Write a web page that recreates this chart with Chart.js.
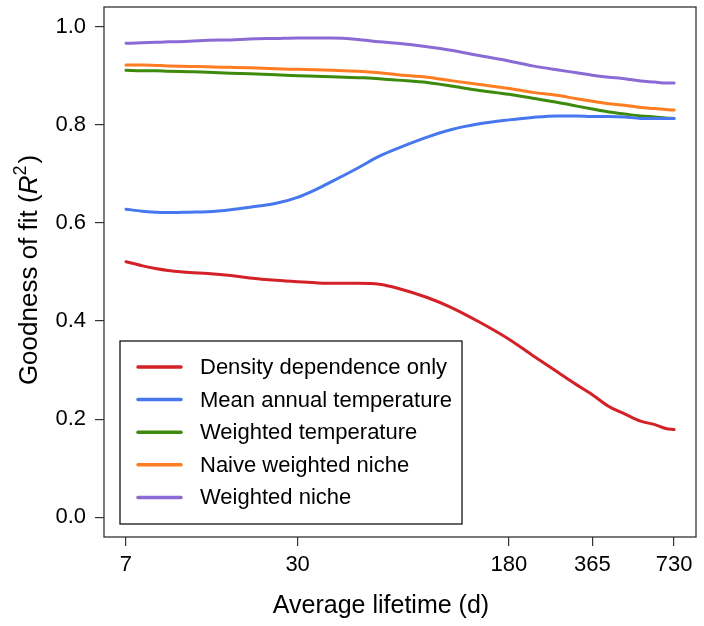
<!DOCTYPE html>
<html>
<head>
<meta charset="utf-8">
<script src="https://cdn.jsdelivr.net/npm/chart.js@4.4.1/dist/chart.umd.min.js"></script>
<style>
    html, body { margin: 0; padding: 0; background: #fff; }
    #wrap { width: 704px; height: 626px; }
</style>
</head>
<body>
<div id="wrap"><canvas id="fitChart" width="704" height="626"></canvas></div>
<script>
// average lifetime in days (log axis)
const days = [7, 8, 9, 10, 12, 14, 17, 20, 25, 30, 35, 40, 50, 60, 70, 90, 110, 140, 180, 220, 270, 320, 365, 420, 480, 550, 620, 680, 730];

// R^2
const densityOnly = [0.521, 0.513, 0.507, 0.503, 0.499, 0.497, 0.493, 0.488, 0.483, 0.480, 0.478, 0.477, 0.477, 0.475, 0.467, 0.448, 0.428, 0.398, 0.363, 0.330, 0.297, 0.270, 0.250, 0.226, 0.211, 0.196, 0.189, 0.181, 0.179];
const meanAnnualTemp = [0.628, 0.624, 0.622, 0.621, 0.622, 0.623, 0.627, 0.632, 0.640, 0.652, 0.668, 0.684, 0.712, 0.736, 0.752, 0.775, 0.790, 0.802, 0.810, 0.815, 0.818, 0.818, 0.817, 0.817, 0.816, 0.813, 0.813, 0.813, 0.813];
const weightedTemp = [0.911, 0.910, 0.910, 0.909, 0.908, 0.907, 0.905, 0.904, 0.902, 0.900, 0.899, 0.898, 0.896, 0.894, 0.891, 0.886, 0.879, 0.870, 0.862, 0.854, 0.846, 0.838, 0.832, 0.826, 0.822, 0.818, 0.816, 0.814, 0.813];
const naiveWeightedNiche = [0.922, 0.922, 0.921, 0.920, 0.919, 0.918, 0.917, 0.916, 0.914, 0.913, 0.912, 0.911, 0.909, 0.906, 0.902, 0.897, 0.890, 0.882, 0.874, 0.866, 0.860, 0.853, 0.848, 0.843, 0.840, 0.835, 0.833, 0.831, 0.830];
const weightedNiche = [0.966, 0.967, 0.968, 0.969, 0.970, 0.972, 0.973, 0.975, 0.976, 0.977, 0.977, 0.977, 0.974, 0.969, 0.966, 0.959, 0.952, 0.941, 0.930, 0.920, 0.912, 0.906, 0.901, 0.897, 0.894, 0.889, 0.887, 0.885, 0.885];

const seriesLabels = ["Density dependence only", "Mean annual temperature", "Weighted temperature", "Naive weighted niche", "Weighted niche"];
const seriesColors = ["#d42027", "#4777ee", "#3d8a0c", "#ff7d22", "#8a6bd5"];
const seriesValues = [densityOnly, meanAnnualTemp, weightedTemp, naiveWeightedNiche, weightedNiche];

const xTicks = [7, 30, 180, 365, 730];
const yTicks = [0, 0.2, 0.4, 0.6, 0.8, 1.0];

const FONT = "'Liberation Sans', Arial, Helvetica, sans-serif";

// box around the plot, legend and axis titles
const extras = {
    id: "extras",
    afterDraw(chart) {
        const ctx = chart.ctx;
        const a = chart.chartArea;
        ctx.save();
        ctx.strokeStyle = "#333";
        ctx.lineWidth = 1.3;
        ctx.strokeRect(a.left, a.top, a.right - a.left, a.bottom - a.top);

        // legend
        ctx.strokeStyle = "#000";
        ctx.lineWidth = 1.2;
        ctx.strokeRect(120, 341, 342, 183);
        ctx.font = "22px " + FONT;
        ctx.textBaseline = "middle";
        ctx.textAlign = "left";
        chart.data.datasets.forEach((ds, i) => {
            const y = 367 + i * 32.6;
            ctx.strokeStyle = ds.borderColor;
            ctx.lineWidth = 3.5;
            ctx.lineCap = "round";
            ctx.beginPath();
            ctx.moveTo(138, y);
            ctx.lineTo(181, y);
            ctx.stroke();
            ctx.fillStyle = "#000";
            ctx.fillText(ds.label, 200, y + 1);
        });

        // x title
        ctx.font = "25px " + FONT;
        ctx.textAlign = "center";
        ctx.textBaseline = "alphabetic";
        ctx.fillText("Average lifetime (d)", 381, 613);

        // y title with italic R and superscript 2
        ctx.translate(37, 271);
        ctx.rotate(-Math.PI / 2);
        const normal = "26px " + FONT;
        const italic = "italic 26px " + FONT;
        const small = "18px " + FONT;
        const parts = [
            { t: "Goodness of fit (", f: normal, dy: 0 },
            { t: "R", f: italic, dy: 0 },
            { t: "2", f: small, dy: -11 },
            { t: ")", f: normal, dy: 0 }
        ];
        let total = 0;
        parts.forEach(p => { ctx.font = p.f; p.w = ctx.measureText(p.t).width; total += p.w; });
        ctx.textAlign = "left";
        let x = -total / 2;
        parts.forEach(p => {
            ctx.font = p.f;
            ctx.fillText(p.t, x, p.dy);
            x += p.w + (p.t === "2" ? 2 : 0);
        });
        ctx.restore();
    }
};

new Chart(document.getElementById("fitChart").getContext("2d"), {
    type: "line",
    data: {
        datasets: seriesValues.map((vals, i) => ({
            label: seriesLabels[i],
            data: days.map((d, j) => ({ x: d, y: vals[j] })),
            borderColor: seriesColors[i],
            backgroundColor: seriesColors[i],
            borderWidth: 3,
            borderCapStyle: "round",
            pointRadius: 0,
            cubicInterpolationMode: "monotone",
            fill: false
        }))
    },
    options: {
        responsive: false,
        animation: false,
        layout: { padding: { top: 7, right: 8, left: 0, bottom: 0 } },
        plugins: {
            legend: { display: false },
            tooltip: { enabled: false }
        },
        scales: {
            x: {
                type: "logarithmic",
                min: 5.81,
                max: 879,
                afterBuildTicks: s => { s.ticks = xTicks.map(v => ({ value: v })); },
                afterFit: s => {
                    s.height = 89;
                    s.paddingLeft = 0;
                    s.paddingRight = 0;
                },
                ticks: {
                    autoSkip: false,
                    maxRotation: 0,
                    padding: 6,
                    color: "#000",
                    font: { family: FONT, size: 22 },
                    callback: v => String(v)
                },
                grid: { drawOnChartArea: false, tickLength: 9, color: "#333", lineWidth: 1.2 },
                border: { display: false }
            },
            y: {
                min: -0.04,
                max: 1.04,
                afterBuildTicks: s => { s.ticks = yTicks.map(v => ({ value: v })); },
                afterFit: s => {
                    s.width = 104;
                    s.paddingTop = 0;
                    s.paddingBottom = 0;
                },
                ticks: {
                    padding: 9,
                    color: "#000",
                    font: { family: FONT, size: 22 },
                    callback: v => v.toFixed(1)
                },
                grid: { drawOnChartArea: false, tickLength: 9, color: "#333", lineWidth: 1.2 },
                border: { display: false }
            }
        }
    },
    plugins: [extras]
});
</script>
</body>
</html>
